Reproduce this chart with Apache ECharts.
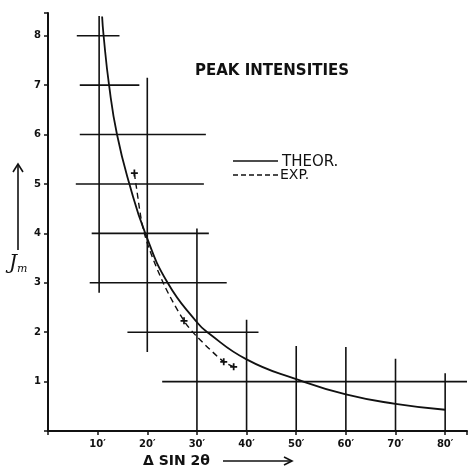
<!DOCTYPE html>
<html lang="en">
<head>
    <meta charset="UTF-8">
    <title>Peak intensities</title>
    <script src="https://cdn.jsdelivr.net/npm/echarts@6/dist/echarts.min.js"></script>
</head>
<body style="margin:0;background:#fff;">
    <div id="main" style="width:470px;height:468px;"></div>
<script>
    // theoretical curve (solid)
    var theorX = [10.9, 11.2, 12.3, 13.9, 16.4, 19.6, 24.1, 30, 32.1, 40, 50, 60, 70, 80];
    var theorY = [8.39, 8, 7, 6, 5, 4, 3, 2.2, 2, 1.45, 1.05, 0.74, 0.55, 0.43];
    // experimental points (dashed), marked = drawn with a cross
    var expX = [17.4, 17.7, 19.4, 23.2, 27.4, 30, 35.4, 37.4];
    var expY = [5.22, 5, 4, 3, 2.23, 1.91, 1.4, 1.3];
    var expMarked = [1, 0, 0, 0, 1, 0, 1, 1];
    // horizontal construction lines: level, from, to
    var hLevel = [8, 7, 6, 5, 4, 3, 2, 1];
    var hFrom = [5.8, 6.4, 6.4, 5.6, 8.8, 8.4, 16, 23];
    var hTo = [14.4, 18.4, 31.8, 31.4, 32.4, 36, 42.4, 84.4];
    // vertical construction lines: position, from, to
    var vPos = [10.3, 20, 30, 40, 50, 60, 70, 80];
    var vFrom = [2.8, 1.6, 0, 0, 0, 0, 0, 0];
    var vTo = [8.4, 7.15, 4.1, 2.25, 1.72, 1.7, 1.46, 1.17];
    var xTicks = [10, 20, 30, 40, 50, 60, 70, 80];

    var myChart = echarts.init(document.getElementById('main'));
    var ink = '#111';
    var font = 'DejaVu Sans';

    var series = [];
    hLevel.forEach(function (lv, i) {
        series.push({
            type: 'line', silent: true, symbol: 'none',
            lineStyle: { color: ink, width: 1.6 },
            data: [[hFrom[i], lv], [hTo[i], lv]]
        });
    });
    vPos.forEach(function (p, i) {
        series.push({
            type: 'line', silent: true, symbol: 'none',
            lineStyle: { color: ink, width: 1.6 },
            data: [[p, vFrom[i]], [p, vTo[i]]]
        });
    });
    series.push({
        name: 'THEOR.', type: 'line', symbol: 'none', smooth: 0.5,
        lineStyle: { color: ink, width: 1.8 },
        data: theorX.map(function (x, i) { return [x, theorY[i]]; })
    });
    series.push({
        name: 'EXP.', type: 'line', smooth: 0.3,
        lineStyle: { color: ink, width: 1.4, type: [6, 4] },
        itemStyle: { color: ink },
        symbol: 'path://M3,0H5V3H8V5H5V8H3V5H0V3H3Z', symbolSize: 7,
        data: expX.map(function (x, i) {
            return { value: [x, expY[i]], symbol: expMarked[i] ? undefined : 'none' };
        })
    });

    var option = {
        backgroundColor: '#fff',
        animation: false,
        grid: { left: 48, right: 0, top: 13, bottom: 37 },
        xAxis: {
            type: 'value', min: 0, max: 84.4, interval: 10,
            splitLine: { show: false },
            axisLine: { lineStyle: { color: ink, width: 2 } },
            axisTick: { length: 4, lineStyle: { color: ink, width: 1.5 } },
            axisLabel: {
                color: ink, fontFamily: font, fontWeight: 'bold', fontSize: 10, margin: 8,
                formatter: function (v) { return xTicks.indexOf(v) >= 0 ? v + '\u2032' : ''; }
            }
        },
        yAxis: {
            type: 'value', min: 0, max: 8.46, interval: 1,
            splitLine: { show: false },
            axisLine: { lineStyle: { color: ink, width: 2 } },
            axisTick: { length: 4, lineStyle: { color: ink, width: 1.5 } },
            axisLabel: {
                color: ink, fontFamily: font, fontWeight: 'bold', fontSize: 10, margin: 7,
                formatter: function (v) { return (v > 0 && v === Math.round(v)) ? v : ''; }
            }
        },
        graphic: [
            { type: 'text', left: 195, top: 64,
              style: { text: 'PEAK INTENSITIES', font: 'bold 15px DejaVu Sans', fill: ink } },
            // legend
            { type: 'line', shape: { x1: 233, y1: 161, x2: 278, y2: 161 },
              style: { stroke: ink, lineWidth: 1.6 } },
            { type: 'text', left: 282, top: 155,
              style: { text: 'THEOR.', font: '15px DejaVu Sans', fill: ink } },
            { type: 'line', shape: { x1: 233, y1: 175, x2: 279, y2: 175 },
              style: { stroke: ink, lineWidth: 1.4, lineDash: [5, 3] } },
            { type: 'text', left: 280, top: 168,
              style: { text: 'EXP.', font: '14px DejaVu Sans', fill: ink } },
            // y axis label with arrow
            { type: 'line', shape: { x1: 18, y1: 250, x2: 18, y2: 164 },
              style: { stroke: ink, lineWidth: 1.6 } },
            { type: 'polyline', shape: { points: [[13, 172], [18, 164], [23, 172]] },
              style: { stroke: ink, lineWidth: 1.6, fill: null } },
            { type: 'text', left: 9, top: 254,
              style: {
                  text: '{j|J}{m|m}',
                  rich: {
                      j: { font: 'italic 20px DejaVu Serif', fill: ink },
                      m: { font: 'italic 11px DejaVu Serif', fill: ink, padding: [10, 0, 0, 0] }
                  }
              } },
            // x axis label with arrow
            { type: 'text', left: 143, top: 454,
              style: { text: '\u0394 SIN 2\u03b8', font: 'bold 14px DejaVu Sans', fill: ink } },
            { type: 'line', shape: { x1: 223, y1: 461, x2: 292, y2: 461 },
              style: { stroke: ink, lineWidth: 1.6 } },
            { type: 'polyline', shape: { points: [[284, 457], [292, 461], [284, 465]] },
              style: { stroke: ink, lineWidth: 1.6, fill: null } }
        ],
        series: series
    };

    myChart.setOption(option);
</script>
</body>
</html>
